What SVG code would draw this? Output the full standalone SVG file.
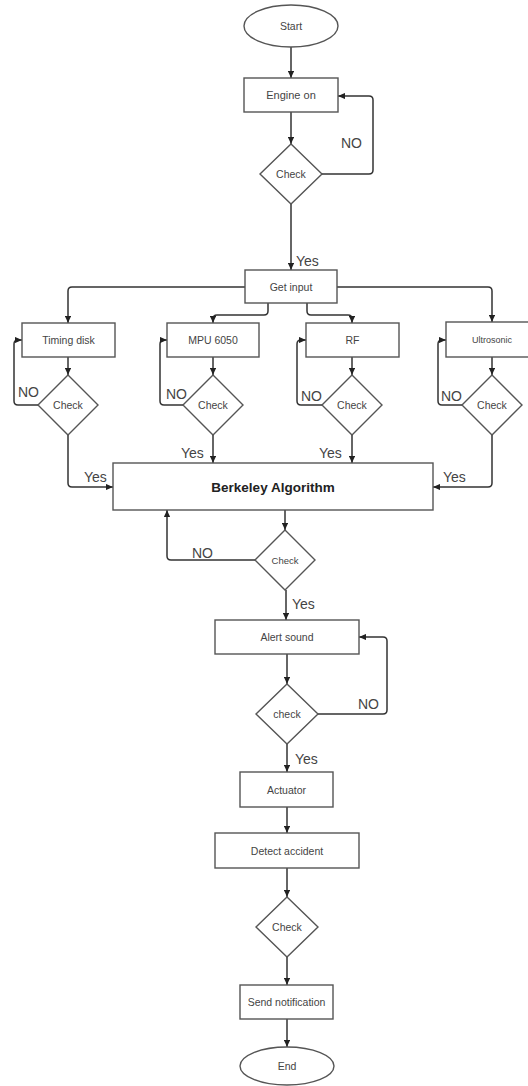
<svg xmlns="http://www.w3.org/2000/svg" width="528" height="1086" viewBox="0 0 528 1086">
<defs>
<marker id="arr" viewBox="0 0 8 7" refX="8" refY="3.5" markerWidth="7" markerHeight="6.5" markerUnits="userSpaceOnUse" orient="auto">
<path d="M0,0 L8,3.5 L0,7 z" fill="#222"/>
</marker>
<style>
.n{fill:#fff;stroke:#555;stroke-width:1.4}
.t{font-family:"Liberation Sans",Arial,sans-serif;font-size:10.5px;fill:#444;text-anchor:middle;dominant-baseline:central}
.b{font-family:"Liberation Sans",Arial,sans-serif;font-size:13.5px;font-weight:bold;fill:#222;text-anchor:middle;dominant-baseline:central}
.c{fill:none;stroke:#333;stroke-width:1.5;marker-end:url(#arr)}
.l{font-family:"Liberation Sans",Arial,sans-serif;font-size:14px;fill:#444}
</style>
</defs>
<rect width="528" height="1086" fill="#fff"/>
<g id="connectors">
<path class="c" d="M291,47 V78"/>
<path class="c" d="M291,112 V144"/>
<path class="c" d="M322,174 H369 Q373,174 373,170 V100 Q373,96 369,96 H338"/>
<path class="c" d="M291,204 V270"/>
<path class="c" d="M245,287 H72 Q68,287 68,291 V323"/>
<path class="c" d="M268,303 V311 Q268,315 264,315 H217 Q213,315 213,319 V323"/>
<path class="c" d="M307,303 V311 Q307,315 311,315 H348 Q352,315 352,319 V323"/>
<path class="c" d="M337,287 H488 Q492,287 492,291 V322"/>
<path class="c" d="M68,357 V375"/>
<path class="c" d="M38,405 H18 Q14,405 14,401 V344 Q14,340 18,340 H22"/>
<path class="c" d="M68,435 V483 Q68,487 72,487 H113"/>
<path class="c" d="M213,357 V375"/>
<path class="c" d="M183,405 H164 Q160,405 160,401 V344 Q160,340 164,340 H167"/>
<path class="c" d="M213,435 V463"/>
<path class="c" d="M352,357 V375"/>
<path class="c" d="M322,405 H301 Q297,405 297,401 V344 Q297,340 301,340 H306"/>
<path class="c" d="M352,435 V463"/>
<path class="c" d="M492,357 V375"/>
<path class="c" d="M462,405 H442 Q438,405 438,401 V344 Q438,340 442,340 H446"/>
<path class="c" d="M492,435 V483 Q492,487 488,487 H433"/>
<path class="c" d="M285,510 V530"/>
<path class="c" d="M255,560 H171 Q167,560 167,556 V510"/>
<path class="c" d="M286,590 V620"/>
<path class="c" d="M287,654 V684"/>
<path class="c" d="M318,714 H383 Q387,714 387,710 V641 Q387,637 383,637 H359"/>
<path class="c" d="M287,744 V772"/>
<path class="c" d="M287,807 V833"/>
<path class="c" d="M287,868 V897"/>
<path class="c" d="M287,957 V985"/>
<path class="c" d="M287,1019 V1047"/>
<text class="l" x="341" y="148">NO</text>
<text class="l" x="296" y="266">Yes</text>
<text class="l" x="18" y="397">NO</text>
<text class="l" x="166" y="399">NO</text>
<text class="l" x="301" y="401">NO</text>
<text class="l" x="441" y="401">NO</text>
<text class="l" x="84" y="482">Yes</text>
<text class="l" x="181" y="458">Yes</text>
<text class="l" x="319" y="458">Yes</text>
<text class="l" x="443" y="482">Yes</text>
<text class="l" x="192" y="558">NO</text>
<text class="l" x="292" y="609">Yes</text>
<text class="l" x="358" y="709">NO</text>
<text class="l" x="295" y="764">Yes</text>
</g>
<g id="start"><ellipse class="n" cx="291" cy="26" rx="47" ry="21"/><text class="t" x="291" y="26">Start</text></g>
<g id="engine"><rect class="n" x="244" y="78" width="94" height="34"/><text class="t" x="291" y="95" style="font-size:11px">Engine on</text></g>
<g id="check1"><polygon class="n" points="291,144 322,174 291,204 260,174"/><text class="t" x="291" y="174">Check</text></g>
<g id="getinput"><rect class="n" x="245" y="270" width="92" height="33"/><text class="t" x="291" y="287">Get input</text></g>
<g id="timing"><rect class="n" x="22" y="323" width="93" height="34"/><text class="t" x="68.5" y="340">Timing disk</text></g>
<g id="check_t"><polygon class="n" points="68,375 98,405 68,435 38,405"/><text class="t" x="68" y="405">Check</text></g>
<g id="mpu"><rect class="n" x="167" y="323" width="92" height="34"/><text class="t" x="213" y="340">MPU 6050</text></g>
<g id="check_m"><polygon class="n" points="213,375 243,405 213,435 183,405"/><text class="t" x="213" y="405">Check</text></g>
<g id="rf"><rect class="n" x="306" y="323" width="93" height="34"/><text class="t" x="352.5" y="340">RF</text></g>
<g id="check_r"><polygon class="n" points="352,375 382,405 352,435 322,405"/><text class="t" x="352" y="405">Check</text></g>
<g id="ultra"><rect class="n" x="446" y="322" width="93" height="35"/><text class="t" x="492" y="340" style="font-size:9px">Ultrosonic</text></g>
<g id="check_u"><polygon class="n" points="492,375 522,405 492,435 462,405"/><text class="t" x="492" y="405">Check</text></g>
<g id="berkeley"><rect class="n" x="113" y="463" width="320" height="47"/><text class="b" x="273" y="487">Berkeley Algorithm</text></g>
<g id="check_b"><polygon class="n" points="285,530 315,560 285,590 255,560"/><text class="t" x="285" y="560" style="font-size:9.5px">Check</text></g>
<g id="alert"><rect class="n" x="215" y="620" width="144" height="34"/><text class="t" x="287" y="637">Alert sound</text></g>
<g id="check_a"><polygon class="n" points="287,684 318,714 287,744 256,714"/><text class="t" x="287" y="714">check</text></g>
<g id="actuator"><rect class="n" x="240" y="772" width="93" height="35"/><text class="t" x="286.5" y="789.5">Actuator</text></g>
<g id="detect"><rect class="n" x="215" y="833" width="144" height="35"/><text class="t" x="287" y="850.5">Detect accident</text></g>
<g id="check_d"><polygon class="n" points="287,897 318,927 287,957 256,927"/><text class="t" x="287" y="927">Check</text></g>
<g id="send"><rect class="n" x="240" y="985" width="93" height="34"/><text class="t" x="286.5" y="1002">Send notification</text></g>
<g id="end"><ellipse class="n" cx="287" cy="1066" rx="47" ry="19"/><text class="t" x="287" y="1066">End</text></g>
</svg>
